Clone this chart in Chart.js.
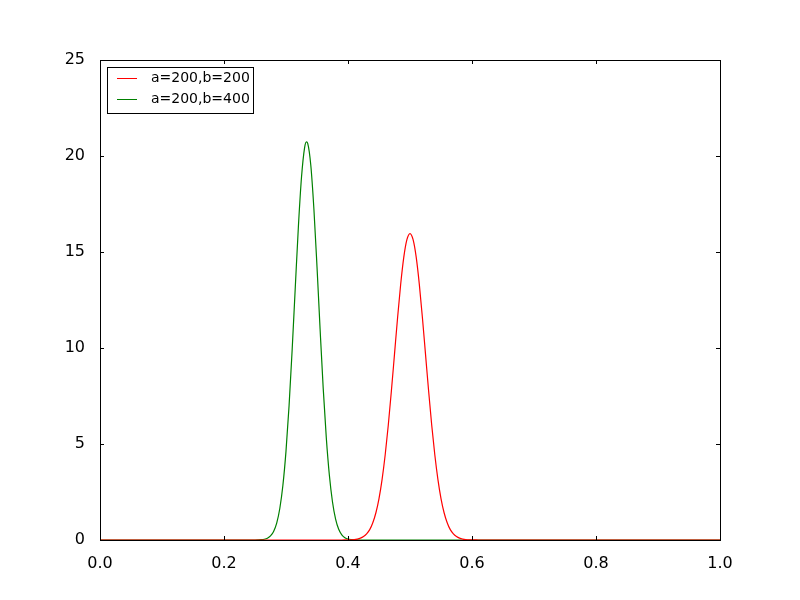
<!DOCTYPE html>
<html>
<head>
  <title>Beta distributions</title>
  <script src="https://cdn.jsdelivr.net/npm/chart.js@4.4.0/dist/chart.umd.min.js"></script>
  <style>
    html, body { margin: 0; padding: 0; background: #fff; }
    canvas { display: block; }
  </style>
</head>
<body>
  <canvas id="betaChart" width="800" height="600"></canvas>

  <script>
    // Valores (densidad)
    const redX = [0, 0.39, 0.395, 0.40, 0.405, 0.41, 0.415, 0.42, 0.425, 0.43, 0.435, 0.44, 0.445, 0.45, 0.455, 0.46, 0.465, 0.47, 0.475, 0.48, 0.485, 0.49, 0.495, 0.50,
                  0.505, 0.51, 0.515, 0.52, 0.525, 0.53, 0.535, 0.54, 0.545, 0.55, 0.555, 0.56, 0.565, 0.57, 0.575, 0.58, 0.585, 0.59, 0.595, 0.60, 0.605, 0.61, 1];
    const redY = [0, 0, 0.002, 0.005, 0.01, 0.024, 0.05, 0.095, 0.18, 0.32, 0.54, 0.90, 1.42, 2.16, 3.16, 4.44, 5.99, 7.77, 9.68, 11.59, 13.33, 14.73, 15.64, 15.96,
                  15.64, 14.73, 13.33, 11.59, 9.68, 7.77, 5.99, 4.44, 3.16, 2.16, 1.42, 0.90, 0.54, 0.32, 0.18, 0.095, 0.05, 0.024, 0.01, 0.005, 0.002, 0, 0];

    const greenX = [0, 0.25, 0.255, 0.26, 0.265, 0.27, 0.275, 0.28, 0.285, 0.29, 0.295, 0.30, 0.305, 0.31, 0.315, 0.32, 0.325, 0.33, 0.333, 0.335,
                    0.34, 0.345, 0.35, 0.355, 0.36, 0.365, 0.37, 0.375, 0.38, 0.385, 0.39, 0.395, 0.40, 0.405, 0.41, 0.415, 0.42, 1];
    const greenY = [0, 0, 0.005, 0.015, 0.038, 0.092, 0.21, 0.445, 0.88, 1.64, 2.85, 4.63, 7.02, 9.95, 13.18, 16.33, 18.89, 20.44, 20.74, 20.66,
                    19.52, 17.24, 14.23, 10.98, 7.91, 5.33, 3.36, 1.98, 1.09, 0.56, 0.27, 0.12, 0.05, 0.02, 0.007, 0.002, 0, 0];

    const seriesLabels = ['a=200,b=200', 'a=200,b=400'];
    const seriesColors = ['#ff0000', '#008000'];

    const xTicks = [0, 0.2, 0.4, 0.6, 0.8, 1.0];
    const yTicks = [0, 5, 10, 15, 20, 25];

    const toPoints = (xs, ys) => xs.map((x, i) => ({ x: x, y: ys[i] }));

    // Marco, marcas hacia dentro y leyenda estilo matplotlib
    const framePlugin = {
      id: 'frame',
      afterDraw(chart) {
        const ctx = chart.ctx;
        const a = chart.chartArea;
        const xs = chart.scales.x;
        const ys = chart.scales.y;
        ctx.save();
        ctx.strokeStyle = '#000';
        ctx.lineWidth = 1;
        ctx.beginPath();
        xTicks.forEach(v => {
          const px = Math.round(xs.getPixelForValue(v)) + 0.5;
          ctx.moveTo(px, a.bottom); ctx.lineTo(px, a.bottom - 4);
          ctx.moveTo(px, a.top); ctx.lineTo(px, a.top + 4);
        });
        yTicks.forEach(v => {
          const py = Math.round(ys.getPixelForValue(v)) + 0.5;
          ctx.moveTo(a.left, py); ctx.lineTo(a.left + 4, py);
          ctx.moveTo(a.right, py); ctx.lineTo(a.right - 4, py);
        });
        ctx.stroke();
        ctx.strokeRect(a.left + 0.5, a.top + 0.5, a.right - a.left, a.bottom - a.top);

        // leyenda
        const lx = 107.5, ly = 67.5, lw = 146, lh = 46;
        ctx.fillStyle = '#fff';
        ctx.fillRect(lx, ly, lw, lh);
        ctx.strokeRect(lx, ly, lw, lh);
        ctx.font = '14px "DejaVu Sans"';
        ctx.textBaseline = 'middle';
        ctx.textAlign = 'left';
        seriesLabels.forEach((lab, i) => {
          const y = 78.5 + i * 21;
          ctx.strokeStyle = seriesColors[i];
          ctx.beginPath();
          ctx.moveTo(117, y); ctx.lineTo(137, y);
          ctx.stroke();
          ctx.fillStyle = '#000';
          ctx.fillText(lab, 151, y);
        });
        ctx.restore();
      }
    };

    const config = {
      type: 'line',
      data: {
        datasets: [
          {
            label: seriesLabels[0],
            data: toPoints(redX, redY),
            borderColor: seriesColors[0],
            borderWidth: 1.2,
            pointRadius: 0,
            fill: false,
            cubicInterpolationMode: 'monotone'
          },
          {
            label: seriesLabels[1],
            data: toPoints(greenX, greenY),
            borderColor: seriesColors[1],
            borderWidth: 1.2,
            pointRadius: 0,
            fill: false,
            cubicInterpolationMode: 'monotone'
          }
        ]
      },
      options: {
        responsive: false,
        animation: false,
        devicePixelRatio: 1,
        layout: { padding: { left: 0, right: 80, top: 60, bottom: 0 } },
        plugins: {
          legend: { display: false },
          tooltip: { enabled: false }
        },
        scales: {
          x: {
            type: 'linear',
            min: 0,
            max: 1,
            afterFit: s => { s.height = 60; },
            afterBuildTicks: s => { s.ticks = xTicks.map(v => ({ value: v })); },
            grid: { display: false },
            border: { display: false },
            ticks: {
              color: '#000',
              padding: 6,
              maxRotation: 0,
              font: { family: 'DejaVu Sans', size: 16 },
              callback: v => v.toFixed(1)
            }
          },
          y: {
            min: 0,
            max: 25,
            afterFit: s => { s.width = 100; },
            afterBuildTicks: s => { s.ticks = yTicks.map(v => ({ value: v })); },
            grid: { display: false },
            border: { display: false },
            ticks: {
              color: '#000',
              padding: 7,
              font: { family: 'DejaVu Sans', size: 16 }
            }
          }
        }
      },
      plugins: [framePlugin]
    };

    const betaChart = new Chart(document.getElementById('betaChart'), config);
  </script>
</body>
</html>
